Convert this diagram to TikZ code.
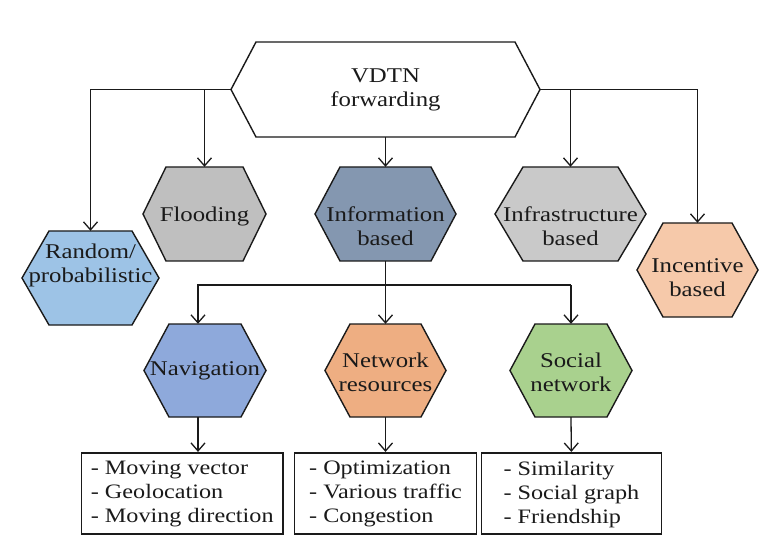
\documentclass[tikz,border=0pt]{standalone}
\usepackage{fontspec}
\setmainfont[FakeStretch=1.18]{Liberation Serif}
\usetikzlibrary{arrows.meta}
\definecolor{crand}{HTML}{9DC3E6}
\definecolor{cflood}{HTML}{BFBFBF}
\definecolor{cinfo}{HTML}{8497B0}
\definecolor{cinfra}{HTML}{C9C9C9}
\definecolor{cincent}{HTML}{F6C9AA}
\definecolor{cnav}{HTML}{8EA9DB}
\definecolor{cnet}{HTML}{EEAE82}
\definecolor{csoc}{HTML}{A9D18E}
\definecolor{cline}{HTML}{1A1A1A}
\tikzset{
 hexline/.style={draw=cline, line width=1.4pt, line join=miter},
 hexshape/.style={inner sep=0pt, draw=none},
 hextext/.style={inner sep=0pt, align=center, font=\fontsize{21}{24}\selectfont, text=cline},
 conn/.style={draw=cline, line width=1.3pt},
 arr/.style={conn, -{Straight Barb[length=8pt,width=14pt]}},
 listbox/.style={draw=cline, line width=1.6pt, inner sep=0pt},
 listtext/.style={inner sep=0pt, align=left, font=\fontsize{20.5}{24}\selectfont, text=cline},
}
% name, cx, cy, half width, half height, inset, colour, text dy, text
\newcommand\hexa[9]{%
  \path[hexline,fill=#7] ({#2-#4},{#3}) -- ({#2-#4+#6},{#3-#5}) -- ({#2+#4-#6},{#3-#5})
     -- ({#2+#4},{#3}) -- ({#2+#4-#6},{#3+#5}) -- ({#2-#4+#6},{#3+#5}) -- cycle;
  \node[hexshape,minimum width=#4*2pt,minimum height=#5*2pt] (#1) at ({#2},{#3}) {};
  \node[hextext] (#1t) at ({#2},{#3+(#8)}) {#9};
}
\begin{document}
\begin{tikzpicture}[x=1pt,y=-1pt]
\fill[white] (0,0) rectangle (772,559);
\useasboundingbox (0,0) rectangle (772,559);

\hexa{top}{385.5}{89.5}{154.5}{47.5}{25}{white}{0}{VDTN\\forwarding}
\hexa{rand}{90.5}{278}{68.5}{47}{27}{crand}{-13}{Random/\\probabilistic}
\hexa{flood}{204.5}{214}{61.5}{47}{23}{cflood}{2}{Flooding}
\hexa{info}{385.5}{214}{70.5}{47}{25}{cinfo}{12}{Information\\based}
\hexa{infra}{570.5}{214}{75.5}{47}{28}{cinfra}{12}{Infrastructure\\based}
\hexa{incent}{697.5}{270}{60.5}{47}{26}{cincent}{8}{Incentive\\based}
\hexa{nav}{205}{370.5}{61}{46.5}{25}{cnav}{0}{Navigation}
\hexa{net}{385.5}{370.5}{60.5}{46.5}{25}{cnet}{2}{Network\\resources}
\hexa{soc}{571}{370.5}{61}{46.5}{25}{csoc}{2}{Social\\network}

% top-level connectors
\draw[arr] (top.west) -| (rand.north);
\coordinate (fj) at (flood.north |- top.west);
\draw[arr] (fj) -- (flood.north);
\draw[arr] (top.south) -- (info.north);
\coordinate (ij) at (infra.north |- top.east);
\draw[arr] (ij) -- (infra.north);
\draw[arr] (top.east) -| (incent.north);

% second level
\coordinate (barL) at (198,285);
\coordinate (barR) at (soc.north |- barL);
\draw[arr] (info.south) -- (net.north);
\draw[arr] (barR) -- (barL) -- (barL |- nav.north);
\draw[arr] (barR) -- (soc.north);

% lists
\node[listbox, minimum width=201.5pt, minimum height=81.3pt] (b1) at (182.25,493.35) {};
\node[listbox, minimum width=181.8pt, minimum height=81.3pt] (b2) at (385.5,493.35) {};
\node[listbox, minimum width=179.9pt, minimum height=81.3pt] (b3) at (571.35,493.35) {};
\node[listtext] (b1t) at ([yshift=-1pt]b1.center) {- Moving vector\\- Geolocation\\- Moving direction};
\node[listtext] (b2t) at ([yshift=-1pt]b2.center) {- Optimization\\- Various traffic\\- Congestion};
\node[listtext] (b3t) at ([yshift=-1pt]b3.center) {- Similarity\\- Social graph\\- Friendship};

\draw[arr] (barL |- nav.south) -- (barL |- b1.north);
\draw[arr] (net.south) -- (b2.north);
\draw[arr] (soc.south) -- (b3.north);
\end{tikzpicture}
\end{document}
